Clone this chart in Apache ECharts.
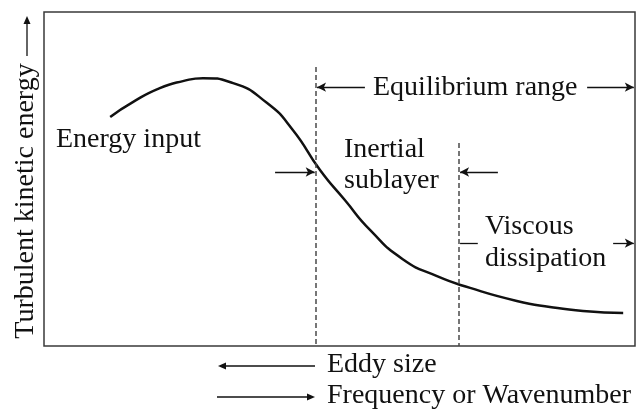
<!DOCTYPE html>
<html>
<head>
<meta charset="utf-8">
<script src="https://cdn.jsdelivr.net/npm/echarts@6/dist/echarts.min.js"></script>
<style>
  html, body { margin: 0; padding: 0; background: #fff; }
  #main { width: 636px; height: 410px; }
</style>
</head>
<body>
<div id="main"></div>
<script>
// energy spectrum sketch, both axes in arbitrary units 0..100
const curveX = [11.2, 15.1, 19.6, 23.5, 26.9, 32.0, 37.7, 42.1, 46.7, 50.9, 55.2, 60.7, 66.5, 72.1, 80.0, 85.6, 91.2, 98.0];
const curveY = [68.6, 73.1, 77.2, 79.3, 80.2, 78.7, 72.8, 64.7, 52.7, 43.7, 34.7, 26.0, 20.9, 17.4, 13.5, 11.7, 10.5, 9.9];

// dashed range boundaries: x position and top of the line
const boundX = [46.0, 70.2];
const boundTop = [83.5, 60.8];

const yTitle = 'Turbulent kinetic energy';
const xTitles = ['Eddy size', 'Frequency or Wavenumber'];
const notes = ['Energy input', 'Equilibrium range', 'Inertial', 'sublayer', 'Viscous', 'dissipation'];

const FONT = '28px "Liberation Serif", "Times New Roman", serif';
const INK = '#111';

const chart = echarts.init(document.getElementById('main'));

const curve = curveX.map((x, i) => [x, curveY[i]]);

// arrow in data coords (for markLine)
function seg(from, to, head) {
  return [
    { coord: from, symbol: 'none' },
    { coord: to, symbol: head ? 'arrow' : 'none', symbolSize: [7, 9] }
  ];
}

// arrow in pixels (outside the plot)
function pxArrow(x1, y1, x2, y2) {
  const a = Math.atan2(y2 - y1, x2 - x1);
  const L = 8, W = 3.5;
  const bx = x2 - Math.cos(a) * L, by = y2 - Math.sin(a) * L;
  return [
    { type: 'line', shape: { x1: x1, y1: y1, x2: bx, y2: by }, style: { stroke: INK, lineWidth: 1.3 } },
    {
      type: 'polygon',
      shape: { points: [[x2, y2], [bx - Math.sin(a) * W, by + Math.cos(a) * W], [bx + Math.sin(a) * W, by - Math.cos(a) * W]] },
      style: { fill: INK }
    }
  ];
}

function txt(s, x, y, extra) {
  return Object.assign({
    type: 'text', x: x, y: y,
    style: { text: s, font: FONT, fill: INK, textAlign: 'left', textVerticalAlign: 'middle' }
  }, extra || {});
}

const graphics = [
  txt(notes[0], 56, 140),
  txt(notes[1], 373, 88),
  txt(notes[2], 344, 150),
  txt(notes[3], 344, 181),
  txt(notes[4], 485, 227),
  txt(notes[5], 485, 259),
  txt(xTitles[0], 327, 365),
  txt(xTitles[1], 327, 396),
  {
    type: 'text', x: 26, y: 201, rotation: Math.PI / 2,
    style: { text: yTitle, font: FONT, fill: INK, textAlign: 'center', textVerticalAlign: 'middle' }
  }
].concat(
  pxArrow(315, 366, 218, 366),
  pxArrow(217, 397, 315, 397),
  pxArrow(27, 56, 27, 16)
);

chart.setOption({
  animation: false,
  grid: {
    left: 44, right: 1, top: 12, bottom: 64,
    show: true, borderColor: '#3a3a3a', borderWidth: 1.5
  },
  xAxis: {
    type: 'value', min: 0, max: 100,
    axisLine: { show: false }, axisTick: { show: false },
    axisLabel: { show: false }, splitLine: { show: false }
  },
  yAxis: {
    type: 'value', min: 0, max: 100,
    axisLine: { show: false }, axisTick: { show: false },
    axisLabel: { show: false }, splitLine: { show: false }
  },
  series: [
    {
      type: 'line',
      data: curve,
      smooth: 0.55,
      symbol: 'none',
      lineStyle: { color: INK, width: 2.5 },
      markLine: {
        silent: true,
        symbol: 'none',
        label: { show: false },
        lineStyle: { color: '#4a4a4a', width: 1.5, type: [5, 3] },
        data: boundX.map((x, i) => [{ coord: [x, boundTop[i]] }, { coord: [x, 0] }])
      }
    },
    {
      type: 'line',
      data: [],
      clip: false,
      markLine: {
        silent: true,
        label: { show: false },
        lineStyle: { color: INK, width: 1.3, type: 'solid' },
        data: [
          seg([54.3, 77.5], [46.2, 77.5], true),
          seg([91.9, 77.5], [99.8, 77.5], true),
          seg([39.1, 52.1], [45.8, 52.1], true),
          seg([76.8, 52.1], [70.4, 52.1], true),
          seg([70.4, 30.8], [73.4, 30.8], false),
          seg([96.3, 30.8], [99.8, 30.8], true)
        ]
      }
    }
  ],
  graphic: graphics
});
</script>
</body>
</html>
